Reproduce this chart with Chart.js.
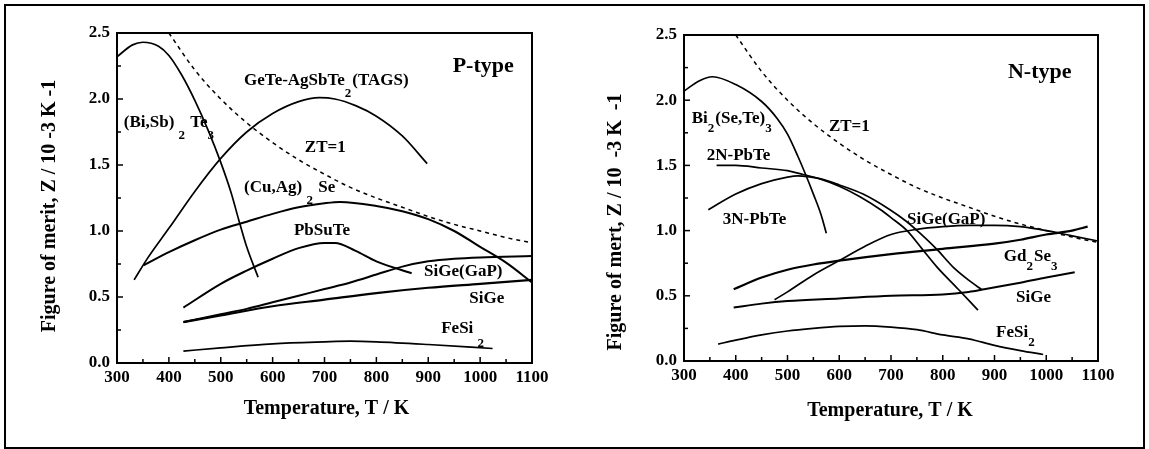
<!DOCTYPE html>
<html><head><meta charset="utf-8">
<script src="https://cdn.jsdelivr.net/npm/chart.js@4.4.1/dist/chart.umd.min.js"></script>
<style>
html,body{margin:0;padding:0;background:#fff;}
#wrap{position:relative;width:1149px;height:449px;overflow:hidden;background:#fff;}
#frame{position:absolute;left:4px;top:4px;width:1137px;height:441px;border:2px solid #000;}
.pane{position:absolute;top:0;height:449px;}
</style></head><body>
<div id="wrap">
<div id="frame"></div>
<div class="pane" style="left:0;width:570px"><canvas id="cL" width="570" height="449"></canvas></div>
<div class="pane" style="left:570px;width:579px"><canvas id="cR" width="579" height="449"></canvas></div>
</div>
<script>
// ---- tick labels ----
const X_TICKS = [300,400,500,600,700,800,900,1000,1100];
const Y_TICKS = [0.0,0.5,1.0,1.5,2.0,2.5];

// ---- P-type panel ----
const P_ZT_T = [400,450,500,550,600,650,700,750,800,850,900,950,1000,1050,1100];
const P_ZT_Z = [2.50,2.22,2.00,1.82,1.67,1.54,1.43,1.33,1.25,1.18,1.11,1.05,1.00,0.95,0.91];
const P_BiSbTe_T = [300,330,350,380,400,425,450,475,500,520,535,550,572];
const P_BiSbTe_Z = [2.32,2.41,2.43,2.40,2.33,2.18,1.99,1.77,1.52,1.29,1.08,0.88,0.65];
const P_TAGS_T = [333,360,400,450,500,550,600,650,690,720,760,800,850,898];
const P_TAGS_Z = [0.63,0.80,1.02,1.30,1.55,1.75,1.89,1.98,2.01,2.00,1.95,1.87,1.72,1.51];
const P_CuAgSe_T = [351,400,450,500,550,600,650,700,730,800,850,900,950,1000,1050,1100];
const P_CuAgSe_Z = [0.74,0.84,0.93,1.01,1.07,1.13,1.18,1.21,1.22,1.19,1.15,1.09,1.00,0.88,0.76,0.61];
const P_PbSnTe_T = [428,500,550,600,650,700,720,760,800,868];
const P_PbSnTe_Z = [0.42,0.60,0.70,0.79,0.87,0.91,0.91,0.85,0.77,0.68];
const P_SiGeGaP_T = [428,500,550,600,650,700,750,800,850,900,950,1000,1100];
const P_SiGeGaP_Z = [0.31,0.37,0.41,0.46,0.51,0.56,0.61,0.67,0.73,0.77,0.79,0.80,0.81];
const P_SiGe_T = [428,500,600,700,800,900,1000,1100];
const P_SiGe_Z = [0.31,0.36,0.43,0.48,0.53,0.57,0.60,0.63];
const P_FeSi2_T = [428,500,600,700,750,800,900,1024];
const P_FeSi2_Z = [0.09,0.115,0.145,0.16,0.165,0.16,0.14,0.11];

// ---- N-type panel ----
const N_ZT_T = [400,450,500,550,600,650,700,750,800,850,900,950,1000,1050,1100];
const N_ZT_Z = [2.50,2.22,2.00,1.82,1.67,1.54,1.43,1.33,1.25,1.18,1.11,1.05,1.00,0.95,0.91];
const N_BiSeTe_T = [300,330,355,400,450,480,500,520,535,550,565,575];
const N_BiSeTe_Z = [2.07,2.15,2.18,2.12,1.99,1.86,1.74,1.57,1.43,1.28,1.12,0.98];
const N_2NPbTe_T = [363,400,450,500,530,560,600,640,680,700,731,760,789,830,868];
const N_2NPbTe_Z = [1.50,1.50,1.48,1.46,1.43,1.40,1.34,1.26,1.16,1.10,1.00,0.86,0.72,0.55,0.39];
const N_3NPbTe_T = [347,400,450,500,520,560,600,646,698,730,756,790,820,850,876];
const N_3NPbTe_Z = [1.16,1.28,1.36,1.41,1.42,1.40,1.35,1.28,1.16,1.07,0.98,0.85,0.72,0.62,0.545];
const N_SiGeGaP_T = [475,500,550,600,650,700,750,800,850,900,950,1000,1050,1100];
const N_SiGeGaP_Z = [0.47,0.53,0.66,0.77,0.88,0.97,1.01,1.03,1.04,1.04,1.03,1.00,0.96,0.92];
const N_Gd2Se3_T = [396,450,500,550,600,700,800,900,950,1000,1050,1080];
const N_Gd2Se3_Z = [0.55,0.64,0.70,0.74,0.77,0.82,0.86,0.90,0.93,0.97,1.00,1.03];
const N_SiGe_T = [396,450,500,600,700,800,850,880,950,1000,1055];
const N_SiGe_Z = [0.41,0.44,0.46,0.48,0.50,0.51,0.53,0.55,0.60,0.64,0.68];
const N_FeSi2_T = [366,400,450,500,550,600,650,700,750,800,850,900,950,994];
const N_FeSi2_Z = [0.13,0.16,0.20,0.23,0.25,0.265,0.27,0.26,0.24,0.20,0.17,0.12,0.08,0.05];

// ---- text ----
const P_LABELS = [
  [947, 2.25, ['P-type'], 22],
  [545, 2.14, ['GeTe-AgSbTe', ['2'], '(TAGS)']],
  [313, 1.82, ['(Bi,Sb) ', ['2'], ' Te', ['3']]],
  [662, 1.63, ['ZT=1']],
  [545, 1.33, ['(Cu,Ag) ', ['2'], ' Se']],
  [641, 1.00, ['PbSuTe']],
  [892, 0.69, ['SiGe(GaP)']],
  [979, 0.485, ['SiGe']],
  [925, 0.258, ['FeSi ', ['2', 15]]]
];
const N_LABELS = [
  [926, 2.216, ['N-type'], 22],
  [315, 1.86, ['Bi', ['2', 10], '(Se,Te)', ['3', 10]]],
  [580, 1.80, ['ZT=1']],
  [344, 1.572, ['2N-PbTe']],
  [375, 1.081, ['3N-PbTe']],
  [731, 1.081, ['SiGe(GaP)']],
  [918, 0.80, ['Gd', ['2', 10], 'Se', ['3', 10]]],
  [941.5, 0.483, ['SiGe']],
  [903, 0.215, ['FeSi', ['2', 10]]]
];

const FONT = '"Liberation Serif", "Times New Roman", serif';

function pts(T, Z){ return T.map((t,i)=>({x:t, y:Z[i]})); }
function solid(T, Z, w){ return {data:pts(T,Z), borderColor:'#000', borderWidth:w||1.7, pointRadius:0, fill:false, cubicInterpolationMode:'monotone'}; }
function dashed(T, Z){ return {data:pts(T,Z), borderColor:'#000', borderWidth:1.5, borderDash:[4,4], pointRadius:0, fill:false, cubicInterpolationMode:'monotone'}; }

function drawParts(ctx, x, y, parts, size){
  let cx = x;
  ctx.textAlign = 'left';
  ctx.textBaseline = 'middle';
  for (const p of parts){
    const sub = Array.isArray(p);
    const txt = sub ? p[0] : p;
    const fs = sub ? 13 : size;
    ctx.font = 'bold ' + fs + 'px ' + FONT;
    const dy = sub ? (p[1] !== undefined ? p[1] : 13) : 0;
    ctx.fillText(txt, cx, y + dy);
    cx += ctx.measureText(txt).width + (sub ? 1 : 0);
  }
}

function decorPlugin(cfg){
  return {
    id:'decor',
    afterDatasetsDraw(chart){
      const ctx = chart.ctx, a = chart.chartArea;
      const xs = chart.scales.x, ys = chart.scales.y;
      ctx.save();
      ctx.strokeStyle = '#000'; ctx.fillStyle = '#000';
      // inward ticks
      ctx.lineWidth = 1.5;
      for (let v = 300; v <= 1100; v += 50){
        const px = xs.getPixelForValue(v);
        const len = (v % 100 === 0) ? 6 : 4;
        ctx.beginPath(); ctx.moveTo(px, a.bottom); ctx.lineTo(px, a.bottom - len); ctx.stroke();
      }
      for (let k = 0; k <= 10; k++){
        const py = ys.getPixelForValue(k * 0.25);
        const len = (k % 2 === 0) ? 6 : 4;
        ctx.beginPath(); ctx.moveTo(a.left, py); ctx.lineTo(a.left + len, py); ctx.stroke();
      }
      // frame
      ctx.lineWidth = 2;
      ctx.strokeRect(a.left, a.top, a.right - a.left, a.bottom - a.top);
      // labels
      for (const L of cfg.labels){
        drawParts(ctx, xs.getPixelForValue(L[0]), ys.getPixelForValue(L[1]), L[2], L[3] || 17);
      }
      // axis titles
      ctx.font = 'bold 20px ' + FONT;
      ctx.textAlign = 'center'; ctx.textBaseline = 'middle';
      ctx.fillText('Temperature, T / K', (a.left + a.right)/2 + cfg.xtDx, a.bottom + cfg.xtDy);
      ctx.save();
      ctx.translate(a.left - cfg.ytDx, (a.top + a.bottom)/2 + cfg.ytDy);
      ctx.rotate(-Math.PI/2);
      ctx.fillText(cfg.ytitle, 0, 0);
      ctx.restore();
      ctx.restore();
    }
  };
}

function makePanel(id, datasets, cfg){
  new Chart(document.getElementById(id), {
    type:'line',
    data:{datasets},
    options:{
      responsive:false, animation:false, devicePixelRatio:1,
      layout:{padding:{top:cfg.top, right:cfg.right, left:0, bottom:0}},
      plugins:{legend:{display:false}, tooltip:{enabled:false}},
      scales:{
        x:{type:'linear', min:300, max:1100,
           afterBuildTicks:s=>{ s.ticks = X_TICKS.map(v=>({value:v})); },
           afterFit:s=>{ s.height = cfg.xh; },
           ticks:{color:'#000', font:{family:FONT, size:17, weight:'bold'}, padding:4, maxRotation:0, autoSkip:false, callback:v=>String(v)},
           grid:{display:false, drawTicks:false}, border:{display:false}},
        y:{type:'linear', min:0, max:2.5,
           afterBuildTicks:s=>{ s.ticks = Y_TICKS.map(v=>({value:v})); },
           afterFit:s=>{ s.width = cfg.yw; },
           ticks:{color:'#000', font:{family:FONT, size:17, weight:'bold'}, padding:7, callback:v=>Number(v).toFixed(1)},
           grid:{display:false, drawTicks:false}, border:{display:false}}
      }
    },
    plugins:[decorPlugin(cfg)]
  });
}

makePanel('cL', [
  dashed(P_ZT_T, P_ZT_Z),
  solid(P_BiSbTe_T, P_BiSbTe_Z),
  solid(P_TAGS_T, P_TAGS_Z),
  solid(P_CuAgSe_T, P_CuAgSe_Z, 2),
  solid(P_PbSnTe_T, P_PbSnTe_Z, 2),
  solid(P_SiGeGaP_T, P_SiGeGaP_Z, 2),
  solid(P_SiGe_T, P_SiGe_Z, 2.2),
  solid(P_FeSi2_T, P_FeSi2_Z)
], {top:33, right:38, xh:86, yw:117, labels:P_LABELS,
    ytitle:'Figure of merit, Z / 10 -3 K -1', ytDx:67, ytDy:8, xtDx:2, xtDy:46});

makePanel('cR', [
  dashed(N_ZT_T, N_ZT_Z),
  solid(N_BiSeTe_T, N_BiSeTe_Z),
  solid(N_2NPbTe_T, N_2NPbTe_Z),
  solid(N_3NPbTe_T, N_3NPbTe_Z),
  solid(N_SiGeGaP_T, N_SiGeGaP_Z),
  solid(N_Gd2Se3_T, N_Gd2Se3_Z, 2.2),
  solid(N_SiGe_T, N_SiGe_Z, 2),
  solid(N_FeSi2_T, N_FeSi2_Z)
], {top:35, right:51, xh:88, yw:114, labels:N_LABELS,
    ytitle:'Figure of mert, Z / 10  -3 K  -1', ytDx:68, ytDy:24, xtDx:-1, xtDy:50});
</script>
</body></html>
